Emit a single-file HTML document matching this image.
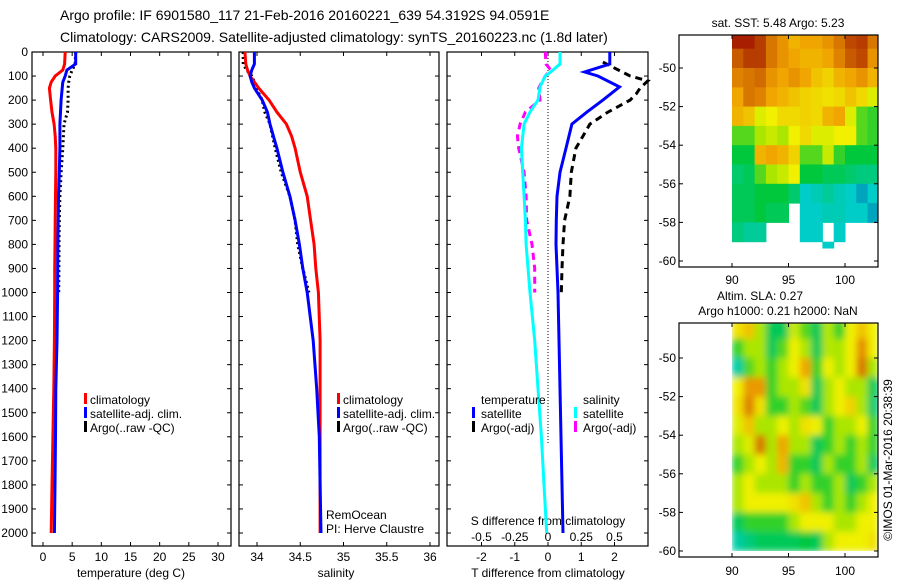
<!DOCTYPE html>
<html><head><meta charset="utf-8"><style>
body{margin:0;background:#fff;width:900px;height:580px;overflow:hidden}
svg{font-family:"Liberation Sans",sans-serif;}
text{fill:#000}
</style></head><body>
<svg id="s" width="900" height="580" xmlns="http://www.w3.org/2000/svg">
<defs>
<filter id="blur" x="0" y="0" width="1" height="1"><feGaussianBlur stdDeviation="3.5"/></filter>
<clipPath id="clip2"><rect x="732" y="323" width="146" height="228"/></clipPath>
</defs>
<text x="60" y="20" font-size="14">Argo profile: IF 6901580_117 21-Feb-2016 20160221_639 54.3192S 94.0591E</text>
<text x="60" y="42" font-size="14">Climatology: CARS2009. Satellite-adjusted climatology: synTS_20160223.nc (1.8d later)</text>
<g id="g"></g>
</svg>
<script>
// ---------- data ----------
const depths=[0,50,75,100,125,150,200,250,300,350,400,500,600,700,800,900,1000,1200,1400,1600,1800,2000];
const tempClim=[3.8,3.7,3.4,2.1,1.4,1.1,1.3,1.55,1.9,2.1,2.2,2.2,2.15,2.1,2.05,2.0,2.0,1.95,1.85,1.7,1.55,1.4];
const tempSat=[5.6,5.6,4.1,3.8,3.4,3.3,3.1,3.0,2.9,2.9,2.9,2.8,2.65,2.6,2.55,2.52,2.5,2.4,2.2,2.15,2.05,1.95];
const argoDepths=[0,50,75,100,125,150,200,250,300,350,400,500,600,700,800,900,1000];
const tempArgo=[5.6,5.5,5.0,4.6,4.4,4.3,4.3,4.2,3.6,3.5,3.4,3.1,2.9,2.8,2.75,2.72,2.7];
const salClim=[33.86,33.87,33.89,33.92,33.97,34.02,34.14,34.23,34.34,34.4,34.44,34.5,34.58,34.62,34.66,34.68,34.71,34.73,34.73,34.73,34.73,34.73];
const salSat=[33.97,33.97,33.94,33.92,33.94,33.97,34.06,34.12,34.15,34.19,34.23,34.3,34.38,34.44,34.49,34.53,34.58,34.65,34.69,34.72,34.73,34.74];
const salArgo=[33.84,33.84,33.88,33.94,33.97,33.99,34.06,34.09,34.15,34.18,34.21,34.28,34.38,34.44,34.47,34.53,34.6];
const diffDepths=[0,50,83,100,145,200,250,300,400,500,600,700,800,1000,1200,1400,1600,1800,2000];
const dTsat=[1.86,1.86,1.1,1.5,2.15,1.65,1.17,0.72,0.54,0.36,0.27,0.25,0.24,0.3,0.33,0.36,0.39,0.42,0.45];
const argoDiffDepths=[42,100,120,150,175,200,250,300,350,400,500,600,700,800,900,1000];
const dTargo=[1.65,2.47,3.0,2.77,2.65,2.47,1.8,1.26,1.05,0.84,0.7,0.66,0.5,0.45,0.42,0.4];
const sArgoDepths=[0,50,75,100,150,200,250,300,350,400,500,600,700,800,900,1000];
const dSsat=[0.09,0.09,0.02,-0.02,-0.06,-0.075,-0.135,-0.18,-0.2,-0.19,-0.18,-0.17,-0.165,-0.135,-0.1,-0.075,-0.05,-0.03,-0.01];
const dSargo=[-0.02,-0.015,0.02,-0.02,-0.07,-0.06,-0.17,-0.21,-0.23,-0.22,-0.18,-0.165,-0.16,-0.12,-0.1,-0.1];
const depthTicks=[0,100,200,300,400,500,600,700,800,900,1000,1100,1200,1300,1400,1500,1600,1700,1800,1900,2000];
const tempTicks=[0,5,10,15,20,25,30];
const salTicks=[34,34.5,35,35.5,36];
const salTickLabels=["34","34.5","35","35.5","36"];
const dTTicks=[-2,-1,0,1,2];
const dSTicks=[-0.5,-0.25,0,0.25,0.5];
const dSTickLabels=["-0.5","-0.25","0","0.25","0.5"];
const mapLons=[90,91,92,93,94,95,96,97,98,99,100,101,102];
const mapLats=[-48.5,-49.5,-50.5,-51.5,-52.5,-53.5,-54.5,-55.5,-56.5,-57.5,-58.5,-59.5];
const latTicks=[-50,-52,-54,-56,-58,-60];
const lonTicks=[90,95,100];
const sstGrid=[
[0.95,0.95,0.9,0.8,0.75,0.7,0.72,0.72,0.75,0.8,0.88,0.9,0.8],
[0.85,0.9,0.9,0.8,0.75,0.72,0.7,0.7,0.72,0.78,0.85,0.88,0.75],
[0.78,0.8,0.82,0.75,0.72,0.75,0.72,0.68,0.66,0.7,0.72,0.75,0.7],
[0.72,0.8,0.78,0.72,0.7,0.68,0.66,0.65,0.64,0.65,0.68,0.65,0.6],
[0.7,0.68,0.6,0.62,0.65,0.65,0.66,0.65,0.7,0.72,0.6,0.5,0.48],
[0.5,0.5,0.55,0.58,0.55,0.62,0.65,0.6,0.6,0.62,0.62,0.5,0.48],
[0.45,0.45,0.7,0.72,0.7,0.66,0.5,0.5,0.58,0.48,0.45,0.45,0.45],
[0.4,0.42,0.5,0.55,0.58,0.62,0.45,0.45,0.42,0.42,0.4,0.38,0.38],
[0.42,0.42,0.45,0.45,0.45,0.4,0.3,0.32,0.35,0.32,0.3,0.28,0.3],
[0.42,0.42,0.45,0.42,0.42,null,0.3,0.3,0.32,0.32,0.3,0.3,0.28],
[0.38,0.35,0.35,null,null,null,0.3,0.3,null,0.3,null,null,null],
[null,null,null,null,null,null,null,null,0.3,null,null,null,null]];
const slaGrid=[
[0.64,0.68,0.55,0.42,0.42,0.58,0.5,0.42,0.56,0.48,0.62,0.68,0.62],
[0.48,0.55,0.55,0.42,0.5,0.62,0.55,0.42,0.56,0.55,0.62,0.76,0.62],
[0.34,0.5,0.55,0.48,0.55,0.62,0.72,0.48,0.62,0.55,0.62,0.8,0.55],
[0.62,0.74,0.74,0.48,0.55,0.55,0.64,0.42,0.55,0.62,0.55,0.55,0.42],
[0.64,0.78,0.64,0.48,0.48,0.55,0.5,0.42,0.55,0.62,0.66,0.55,0.4],
[0.6,0.68,0.55,0.55,0.62,0.55,0.64,0.62,0.48,0.55,0.55,0.62,0.48],
[0.55,0.6,0.8,0.55,0.72,0.55,0.55,0.42,0.48,0.55,0.48,0.55,0.48],
[0.48,0.55,0.62,0.55,0.7,0.48,0.48,0.42,0.55,0.48,0.48,0.55,0.42],
[0.55,0.62,0.55,0.55,0.55,0.48,0.55,0.48,0.48,0.55,0.42,0.48,0.55],
[0.55,0.62,0.62,0.62,0.62,0.64,0.68,0.55,0.48,0.55,0.48,0.55,0.62],
[0.42,0.48,0.48,0.48,0.48,0.55,0.62,0.62,0.62,0.55,0.55,0.62,0.62],
[0.34,0.38,0.42,0.42,0.42,0.42,0.45,0.42,0.55,0.62,0.62,0.62,0.64]];

// ---------- helpers ----------
const NS="http://www.w3.org/2000/svg";
const G=document.getElementById('g');
function mk(tag,a,parent){const e=document.createElementNS(NS,tag);for(const k in a)e.setAttribute(k,a[k]);(parent||G).appendChild(e);return e;}
const yD=d=>52+d*0.2405;
const xT=t=>43+t*5.833;
const xS=s=>257+(s-34)*86.5;
const xDT=t=>548+t*33.25;
const xDS=s=>548+s*133;
const mX=lon=>732+(lon-90)*11.3;
const mY1=lat=>68+(-50-lat)*19.3;
const mY2=lat=>358+(-50-lat)*19.3;
const PT=52,PB=546;

function line(xs,ds,xf,color,w,dash,name){
  const pts=xs.map((v,i)=>xf(v).toFixed(1)+','+yD(ds[i]).toFixed(1)).join(' ');
  const p=mk('polyline',{points:pts,fill:'none',stroke:color,'stroke-width':w});
  if(dash)p.setAttribute('stroke-dasharray',dash);
  
  
}
function txt(x,y,s,size,anchor,name){
  const t=mk('text',{x:x,y:y,'font-size':size,'text-anchor':anchor||'start'});t.textContent=s;
  
  
  return t;
}
function panel(x0,x1,name){
  const r=mk('rect',{x:x0,y:PT,width:x1-x0,height:PB-PT,fill:'none',stroke:'#000','stroke-width':1.2});
  
  
  depthTicks.forEach(d=>{const y=yD(d);mk('line',{x1:x0,x2:x0+4,y1:y,y2:y,stroke:'#000'});mk('line',{x1:x1-4,x2:x1,y1:y,y2:y,stroke:'#000'});});
}
function xticks(vals,labels,f,x0,name){
  vals.forEach((v,i)=>{const x=f(v);mk('line',{x1:x,x2:x,y1:PT,y2:PT+4,stroke:'#000'});mk('line',{x1:x,x2:x,y1:PB-4,y2:PB,stroke:'#000'});
    txt(x,561,labels[i],12,'middle',name);});
}
function legendBar(x,y,color,name){
  const r=mk('rect',{x:x,y:y-6,width:3,height:11,fill:color});
  
  
}

// ---------- panel 1 temperature ----------
panel(32,231,'temperature-panel');
depthTicks.forEach(d=>txt(28,yD(d)+4,String(d),12,'end','depth-tick-label'));
xticks(tempTicks,tempTicks.map(String),xT,32,'temperature-tick-label');
txt(131,577,'temperature (deg C)',12,'middle','temperature-axis-title');
line(tempArgo,argoDepths,xT,'#000',3,'2,3','temp-argo-line');
line(tempClim,depths,xT,'#f00',3,null,'temp-climatology-line');
line(tempSat,depths,xT,'#00f',3,null,'temp-satellite-line');
legendBar(84,399,'#f00','legend-climatology-swatch');txt(90,404,'climatology',12,'start','legend-climatology');
legendBar(84,413,'#00f','legend-satellite-swatch');txt(90,418,'satellite-adj. clim.',12,'start','legend-satellite');
legendBar(84,427,'#000','legend-argo-swatch');txt(90,432,'Argo(..raw -QC)',12,'start','legend-argo');

// ---------- panel 2 salinity ----------
panel(239,439,'salinity-panel');
xticks(salTicks,salTickLabels,xS,239,'salinity-tick-label');
txt(336,577,'salinity',12,'middle','salinity-axis-title');
line(salArgo,argoDepths,xS,'#000',3,'2,3','sal-argo-line');
line(salClim,depths,xS,'#f00',3,null,'sal-climatology-line');
line(salSat,depths,xS,'#00f',3,null,'sal-satellite-line');
legendBar(337,399,'#f00','legend-climatology-swatch');txt(343,404,'climatology',12,'start','legend-climatology');
legendBar(337,413,'#00f','legend-satellite-swatch');txt(343,418,'satellite-adj. clim.',12,'start','legend-satellite');
legendBar(337,427,'#000','legend-argo-swatch');txt(343,432,'Argo(..raw -QC)',12,'start','legend-argo');
txt(326,519,'RemOcean',12,'start','project-label');
txt(326,533,'PI: Herve Claustre',12,'start','pi-label');

// ---------- panel 3 differences ----------
panel(447,648,'difference-panel');
mk('line',{x1:548,x2:548,y1:PT,y2:445,stroke:'#000','stroke-dasharray':'1,2'});
xticks(dTTicks,dTTicks.map(String),xDT,447,'t-diff-tick-label');
dSTicks.forEach((v,i)=>txt(xDS(v),541,dSTickLabels[i],12,'middle','s-diff-tick-label'));
txt(548,525,'S difference from climatology',12,'middle','s-diff-axis-title');
txt(548,577,'T difference from climatology',12,'middle','t-diff-axis-title');
line(dTargo,argoDiffDepths,xDT,'#000',3,'7,5','t-diff-argo-line');
line(dTsat,diffDepths,xDT,'#00f',3,null,'t-diff-satellite-line');
line(dSargo,sArgoDepths,xDS,'#f0f',3,'7,5','s-diff-argo-line');
line(dSsat,diffDepths,xDS,'#0ff',3,null,'s-diff-satellite-line');
txt(481,404,'temperature',12,'start','legend-temperature-heading');
legendBar(472,413,'#00f','legend-t-satellite-swatch');txt(481,418,'satellite',12,'start','legend-t-satellite');
legendBar(472,427,'#000','legend-t-argo-swatch');txt(481,432,'Argo(-adj)',12,'start','legend-t-argo');
txt(583,404,'salinity',12,'start','legend-salinity-heading');
legendBar(574,413,'#0ff','legend-s-satellite-swatch');txt(583,418,'satellite',12,'start','legend-s-satellite');
legendBar(574,427,'#f0f','legend-s-argo-swatch');txt(583,432,'Argo(-adj)',12,'start','legend-s-argo');

// ---------- maps ----------
const stops=[[0.2,[0,0,140]],[0.3,[0,205,200]],[0.45,[0,200,60]],[0.55,[170,230,0]],[0.62,[240,240,0]],[0.72,[240,165,0]],[0.85,[200,90,0]],[1.0,[150,0,0]]];
function cmap(v){
  if(v<=stops[0][0])return 'rgb('+stops[0][1]+')';
  for(let i=1;i<stops.length;i++){if(v<=stops[i][0]){const a=stops[i-1],b=stops[i],t=(v-a[0])/(b[0]-a[0]);
    return 'rgb('+a[1].map((c,k)=>Math.round(c+(b[1][k]-c)*t)).join(',')+')';}}
  return 'rgb('+stops[stops.length-1][1]+')';
}
function drawMap(grid,yf,top,bottom,parent,name){
  grid.forEach((row,r)=>row.forEach((v,c)=>{
    if(v===null)return;
    const x0=mX(mapLons[c]),x1=Math.min(878,mX(mapLons[c]+1));
    const y0=Math.max(top,yf(mapLats[r]+0.5)),y1=Math.min(bottom,yf(mapLats[r]-0.5));
    const e=mk('rect',{x:x0,y:y0,width:x1-x0+0.5,height:y1-y0+0.5,fill:cmap(v)},parent);
    
    
  }));
}
function mapAxes(top,bottom,yf,labelY,name){
  const r=mk('rect',{x:679,y:top,width:199,height:bottom-top,fill:'none',stroke:'#000','stroke-width':1.2});
  
  
  latTicks.forEach(l=>{const y=yf(l);mk('line',{x1:679,x2:683,y1:y,y2:y,stroke:'#000'});mk('line',{x1:874,x2:878,y1:y,y2:y,stroke:'#000'});
    txt(676,y+4,String(l),12,'end','latitude-tick-label');});
  lonTicks.forEach(l=>{const x=mX(l);mk('line',{x1:x,x2:x,y1:top,y2:top+4,stroke:'#000'});mk('line',{x1:x,x2:x,y1:bottom-4,y2:bottom,stroke:'#000'});
    txt(x,labelY,String(l),12,'middle','longitude-tick-label');});
}
const sstG=mk('g',{});


drawMap(sstGrid,mY1,35,248,sstG,'sst-cell');
mapAxes(35,267,mY1,284,'sst-map-axes');
txt(778,27,'sat. SST: 5.48 Argo: 5.23',12,'middle','sst-map-title');

const slaOuter=mk('g',{'clip-path':'url(#clip2)'});
const slaG=mk('g',{filter:'url(#blur)'},slaOuter);


mk('rect',{x:732,y:323,width:146,height:228,fill:'#c8e600'},slaG);
drawMap(slaGrid,mY2,315,560,slaG,'sla-cell');
mapAxes(323,557,mY2,575,'sla-map-axes');
txt(760,300,'Altim. SLA: 0.27',12,'middle','sla-map-title');
txt(778,315,'Argo h1000: 0.21 h2000: NaN',12,'middle','sla-map-subtitle');
const cr=txt(0,0,'©IMOS 01-Mar-2016 20:38:39',12,'middle','copyright-label');
cr.setAttribute('transform','translate(892,460) rotate(-90)');
</script>
</body></html>
